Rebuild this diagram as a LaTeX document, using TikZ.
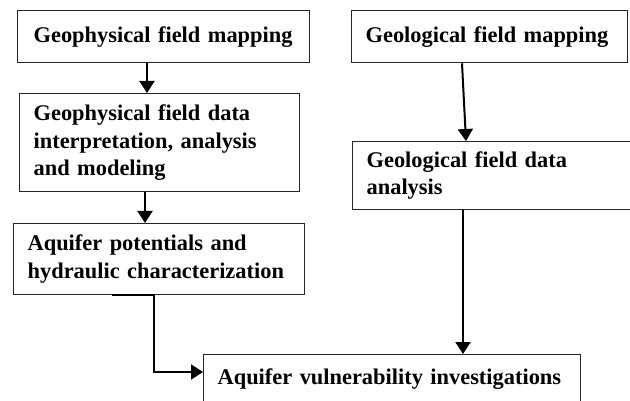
\documentclass[tikz,border=0pt]{standalone}
\usepackage{fontspec}
\setmainfont{Liberation Serif}
\usetikzlibrary{arrows.meta}

\begin{document}
\begin{tikzpicture}[x=1pt,y=-1pt,
  stagebox/.style={draw=black!85, line width=1.3pt, anchor=north west,
    inner xsep=14pt, inner ysep=0pt, align=left,
    font=\fontsize{22.4}{27.5}\selectfont\bfseries},
  flow/.style={line width=2pt, -{Triangle[width=15pt,length=12pt]}}]
  \useasboundingbox (0,0) rectangle (630,401);

  % left column: geophysical branch
  \node[stagebox, minimum width=290pt, minimum height=52pt, text width=260pt, inner xsep=16pt]
    (gpmap) at (17,10) {Geophysical field mapping};
  \node[stagebox, minimum width=280pt, minimum height=98pt, text width=252pt]
    (gpint) at (19,93) {Geophysical field data\\interpretation, analysis\\and modeling};
  \node[stagebox, minimum width=291pt, minimum height=71pt, text width=263pt]
    (aquif) at (13,223) {Aquifer potentials and\\hydraulic characterization};

  % right column: geological branch
  \node[stagebox, minimum width=276pt, minimum height=52pt, text width=248pt]
    (glmap) at (351,10) {Geological field mapping};
  \node[stagebox, minimum width=278pt, minimum height=68pt, text width=250pt]
    (glana) at (352,141) {Geological field data\\analysis};

  % final stage, running off the lower edge
  \node[stagebox, minimum width=377pt, minimum height=49pt, text width=349pt]
    (vuln) at (203,354) {Aquifer vulnerability investigations};

  % connectors
  \draw[flow] (gpmap.south -| 147,0) -- (gpint.north -| 147,0);
  \draw[flow] (gpint.south -| 145,0) -- (aquif.north -| 145,0);
  \draw[flow] (glmap.south -| 462,0) -- (glana.north -| 466,0);
  \draw[flow] (glana.south -| 463,0) -- (vuln.north -| 463,0);
  \draw[flow] (aquif.south -| 112,0) -- (aquif.south -| 154,0) |- (vuln.west |- 0,372);
\end{tikzpicture}
\end{document}
